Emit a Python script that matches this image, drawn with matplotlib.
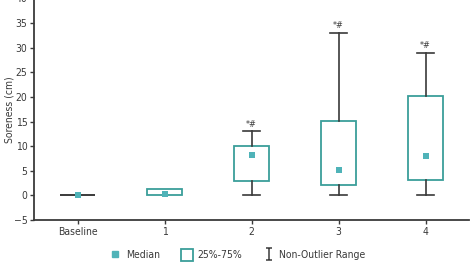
import matplotlib
matplotlib.use('Agg')
import matplotlib.pyplot as plt
from matplotlib.path import Path
from matplotlib.lines import Line2D
from matplotlib.patches import Rectangle
from matplotlib import font_manager

names = {f.name for f in font_manager.fontManager.ttflist}
narrow = [n for n in ['Liberation Sans Narrow', 'DejaVu Sans Condensed'] if n in names]
plt.rcParams['font.family'] = narrow + ['DejaVu Sans']
plt.rcParams['font.stretch'] = 'condensed'

labels = ['Baseline', '1', '2', '3', '4']
medians = [0, 0.3, 8.2, 5.1, 8.0]
q1 = [0, 0, 2.9, 2.2, 3.1]
q3 = [0, 1.2, 10.1, 15.2, 20.1]
whis_lo = [0, 0, 0, 0, 0]
whis_hi = [0, 1.2, 13, 33, 29]
marks = ['', '', '*#', '*#', '*#']

teal = '#3a9e9a'
med_col = '#4fb3b8'
dark = '#3a3a3a'

fig = plt.figure(figsize=(4.7, 2.67), dpi=100)
ax = fig.add_axes([0.073, 0.176, 0.925, 0.83])

stats = []
for i in range(len(labels)):
    stats.append({'med': medians[i], 'q1': q1[i], 'q3': q3[i],
                  'whislo': whis_lo[i], 'whishi': whis_hi[i], 'fliers': []})
pos = list(range(len(labels)))
bp = ax.bxp(stats, positions=pos, widths=0.4, patch_artist=True,
            boxprops=dict(facecolor='white', edgecolor=teal, linewidth=1.3),
            whiskerprops=dict(color=dark, linewidth=1.2),
            capprops=dict(color=dark, linewidth=1.2),
            medianprops=dict(linestyle='none'), capwidths=0.2)
bp['boxes'][0].set_edgecolor(dark)
bp['boxes'][0].set_linewidth(1.4)
# no whiskers/caps shown for baseline and day 1
for c in bp['caps'][:4] + bp['whiskers'][:4]:
    c.set_visible(False)

ax.scatter(pos, medians, marker='s', s=14, color=med_col, zorder=5, linewidths=0)

for i, m in enumerate(marks):
    if m:
        ax.annotate(m, (pos[i], whis_hi[i]), xytext=(0, 2), textcoords='offset points',
                    ha='center', va='bottom', fontsize=6.5, color=dark)

ax.set_xlim(-0.5, 4.5)
ax.set_ylim(-5, 40)
ax.set_yticks(range(-5, 41, 5))
ax.set_xticks(pos)
ax.set_xticklabels(labels)
ax.tick_params(labelsize=7.5, colors=dark, length=3, width=1, pad=2)
ax.spines['top'].set_visible(False)
ax.spines['right'].set_visible(False)
ax.spines['left'].set_color(dark)
ax.spines['bottom'].set_color(dark)
ax.spines['left'].set_linewidth(1.3)
ax.spines['bottom'].set_linewidth(1.3)
fig.text(10 / 470, 1 - 110 / 267, 'Soreness (cm)', rotation=90, ha='center', va='center',
         fontsize=7.5, color=dark)

ibar = Path([(-0.5, 1), (0.5, 1), (0, 1), (0, -1), (-0.5, -1), (0.5, -1)],
            [Path.MOVETO, Path.LINETO, Path.MOVETO, Path.LINETO, Path.MOVETO, Path.LINETO])
handles = [
    Line2D([], [], marker='s', linestyle='none', color=med_col, markersize=4),
    Rectangle((0, 0), 1, 1, facecolor='white', edgecolor=teal, linewidth=1.3),
    Line2D([], [], marker=ibar, linestyle='none', markerfacecolor='none',
           markeredgecolor=dark, markeredgewidth=1.1, markersize=9),
]
fig.legend(handles, ['Median', '25%-75%', 'Non-Outlier Range'], loc='center',
           bbox_to_anchor=(0.505, 0.045), ncol=3, frameon=False, fontsize=7.5,
           handlelength=1.2, handleheight=1.3, columnspacing=2.0, handletextpad=0.4,
           labelcolor=dark)

fig.savefig('out.png', dpi=100)
